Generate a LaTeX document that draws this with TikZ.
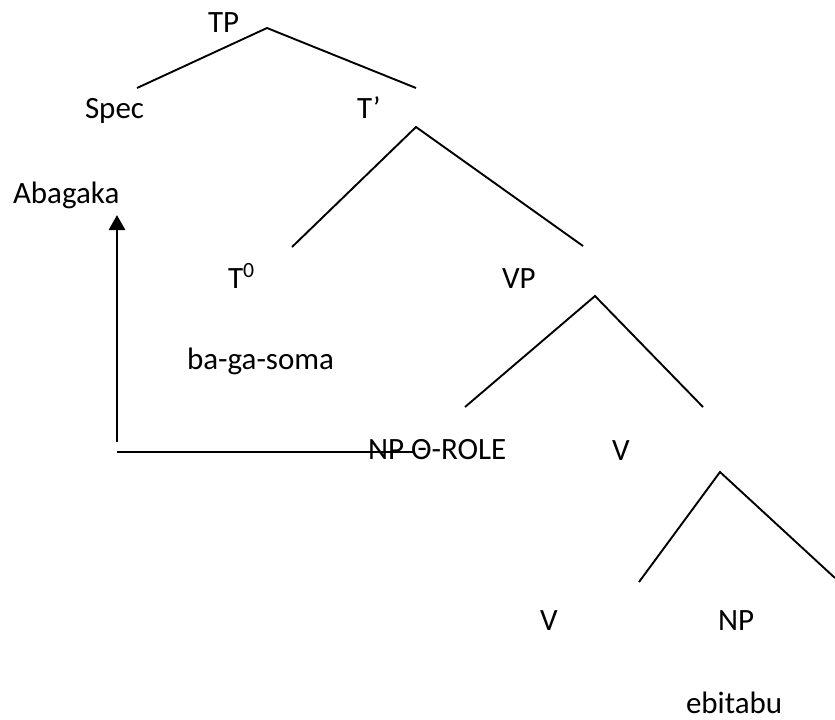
\documentclass[tikz,border=0pt]{standalone}
\usepackage{fontspec}
\setmainfont{Carlito}
\usetikzlibrary{arrows.meta}
\begin{document}
\begin{tikzpicture}[x=0.5pt,y=-0.5pt,
  lbl/.style={anchor=base west,inner sep=0pt,outer sep=0pt,font=\fontsize{15.5}{18}\selectfont},
  branch/.style={line width=0.95pt,line cap=butt},
  move/.style={line width=0.9pt},
  movearrow/.style={line width=1.35pt,-{Triangle[width=8pt,length=7.5pt]}}]
\useasboundingbox (0,0) rectangle (835,719);
% labels
\node[lbl] (tp) at (208,32) {TP};
\node[lbl] (spec) at (85,118) {Spec};
\node[lbl] (tbar) at (357,118) {T’};
\node[lbl] (abagaka) at (13,203) {Abagaka};
\node[lbl] (t0) at (228,288) {T\textsuperscript{0}};
\node[lbl] (vp) at (502,288) {VP};
\node[lbl] (bagasoma) at (187,369) {ba-ga-soma};
\node[lbl] (nptheta) at (368,459) {NP Θ-ROLE};
\node[lbl] (vbar) at (612,460) {V};
\node[lbl] (v) at (540,630) {V};
\node[lbl] (np) at (718,630) {NP};
\node[lbl] (ebitabu) at (686,713) {ebitabu};
% branch points
\coordinate (tpA) at (267,28);  \coordinate (tpL) at (137,88);  \coordinate (tpR) at (416,88);
\coordinate (tbA) at (416,127); \coordinate (tbL) at (292,247); \coordinate (tbR) at (583,246);
\coordinate (vpA) at (595,296); \coordinate (vpL) at (465,407); \coordinate (vpR) at (703,407);
\coordinate (vbA) at (720,472); \coordinate (vbL) at (639,582); \coordinate (vbR) at (835,578);
\draw[branch] (tpL) -- (tpA) -- (tpR);
\draw[branch] (tbL) -- (tbA) -- (tbR);
\draw[branch] (vpL) -- (vpA) -- (vpR);
\draw[branch] (vbL) -- (vbA) -- (vbR);
% movement
\coordinate (hstart) at (117,452); \coordinate (hend) at (413,452);
\coordinate (mvbot) at (117,442); \coordinate (mvtop) at (117,215);
\draw[move] (hstart) -- (hend);
\draw[movearrow] (mvbot) -- (mvtop);
\end{tikzpicture}
\end{document}
